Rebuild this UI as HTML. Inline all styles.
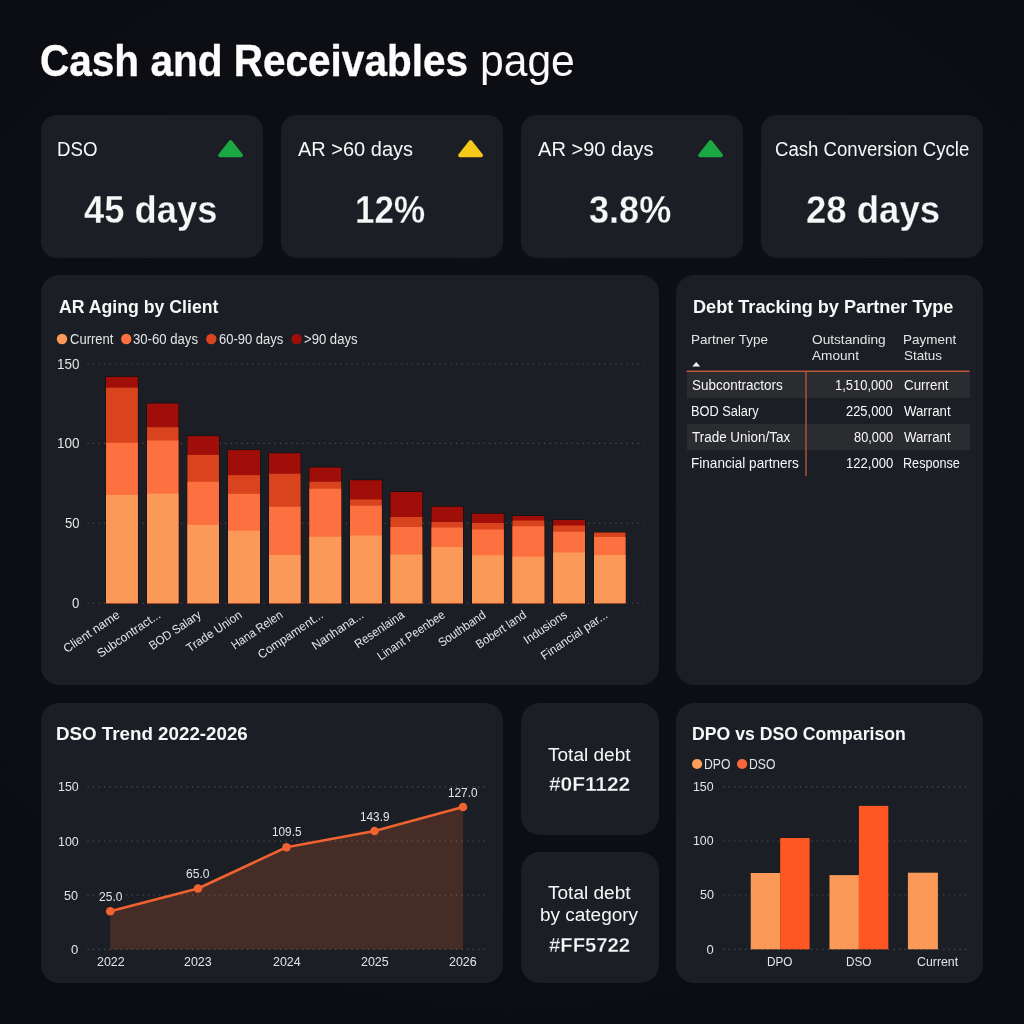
<!DOCTYPE html>
<html lang="en">
<head>
<meta charset="utf-8">
<title>Cash and Receivables page</title>
<style>

html,body{margin:0;padding:0;}
body{width:1024px;height:1024px;overflow:hidden;background:#0b0d12;font-family:"Liberation Sans",sans-serif;color:#f7f7f7;position:relative;}
.bgglow{position:absolute;left:0;top:0;width:1024px;height:1024px;background:radial-gradient(ellipse 800px 700px at 50% 45%, #0d0f15 0%, #0b0d12 100%);}
.layer{position:absolute;left:0;top:0;width:1024px;height:1024px;will-change:transform;}
.card{position:absolute;background:#1b1f25;box-sizing:border-box;}
.t{position:absolute;white-space:nowrap;line-height:1;transform-origin:0 50%;display:block;}
.b{font-weight:bold;}
.ek{-webkit-text-stroke:0.3px #1b1f25;}
.et{-webkit-text-stroke:0.35px #fdfdfd;}
svg{position:absolute;left:0;top:0;overflow:visible;}
.xl{font-size:12.2px;fill:#e6e6e6;}

</style>
</head>
<body>
<div class="bgglow"></div>
<div class="layer">
<div class="card" style="left:41px;top:115.25px;width:222.25px;height:143px;border-radius:16px;"></div>
<div class="card" style="left:280.75px;top:115.25px;width:222.25px;height:143px;border-radius:16px;"></div>
<div class="card" style="left:520.75px;top:115.25px;width:222.25px;height:143px;border-radius:16px;"></div>
<div class="card" style="left:760.75px;top:115.25px;width:222.25px;height:143px;border-radius:16px;"></div>
<div class="card" style="left:41px;top:275px;width:617.5px;height:410.25px;border-radius:18px;"></div>
<div class="card" style="left:676.25px;top:275px;width:306.75px;height:410.25px;border-radius:18px;"></div>
<div class="card" style="left:41px;top:703px;width:462px;height:280.25px;border-radius:18px;"></div>
<div class="card" style="left:520.75px;top:703px;width:138px;height:131.75px;border-radius:19px;"></div>
<div class="card" style="left:520.75px;top:852.25px;width:138px;height:131px;border-radius:19px;"></div>
<div class="card" style="left:676.25px;top:703px;width:306.75px;height:280.25px;border-radius:18px;"></div>
<div style="position:absolute;left:686.5px;top:371.5px;width:283px;height:26.3px;background:#2a2c30"></div>
<div style="position:absolute;left:686.5px;top:424px;width:283px;height:25.8px;background:#2a2c30"></div>
<svg width="1024" height="1024" viewBox="0 0 1024 1024">
<path d="M230.575 141.98 L241.18 155.4 L219.97 155.4 Z" fill="#1ba843" stroke="#1ba843" stroke-width="3.6" stroke-linejoin="round"/>
<path d="M470.575 141.98 L481.18 155.4 L459.97 155.4 Z" fill="#f5c819" stroke="#f5c819" stroke-width="3.6" stroke-linejoin="round"/>
<path d="M710.575 141.98 L721.18 155.4 L699.97 155.4 Z" fill="#1ba843" stroke="#1ba843" stroke-width="3.6" stroke-linejoin="round"/>
<line x1="87.5" x2="643.5" y1="364.2" y2="364.2" stroke="#4f5359" stroke-width="1.15" stroke-dasharray="1.15 4.35"/>
<line x1="87.5" x2="643.5" y1="443.3" y2="443.3" stroke="#4f5359" stroke-width="1.15" stroke-dasharray="1.15 4.35"/>
<line x1="87.5" x2="643.5" y1="523.2" y2="523.2" stroke="#4f5359" stroke-width="1.15" stroke-dasharray="1.15 4.35"/>
<line x1="87.5" x2="643.5" y1="603.2" y2="603.2" stroke="#4f5359" stroke-width="1.15" stroke-dasharray="1.15 4.35"/>
<circle cx="62" cy="339" r="5.2" fill="#fb9a58"/>
<circle cx="126.25" cy="339" r="5.2" fill="#fd7040"/>
<circle cx="211.25" cy="339" r="5.2" fill="#d9431d"/>
<circle cx="296.6" cy="339" r="5.2" fill="#a00e0a"/>
<rect x="106" y="376.9" width="31.8" height="226.35" fill="none" stroke="#170905" stroke-opacity="0.85" stroke-width="1.2"/>
<rect x="106" y="376.9" width="31.8" height="226.35" fill="#a00e0a"/>
<rect x="106" y="387.7" width="31.8" height="215.55" fill="#d9431d"/>
<rect x="106" y="442.75" width="31.8" height="160.5" fill="#fd7040"/>
<rect x="106" y="495" width="31.8" height="108.25" fill="#fb9a58"/>
<rect x="147" y="403.5" width="31.4" height="199.75" fill="none" stroke="#170905" stroke-opacity="0.85" stroke-width="1.2"/>
<rect x="147" y="403.5" width="31.4" height="199.75" fill="#a00e0a"/>
<rect x="147" y="427.25" width="31.4" height="176" fill="#d9431d"/>
<rect x="147" y="440.5" width="31.4" height="162.75" fill="#fd7040"/>
<rect x="147" y="493.6" width="31.4" height="109.65" fill="#fb9a58"/>
<rect x="187.5" y="436.1" width="31.5" height="167.15" fill="none" stroke="#170905" stroke-opacity="0.85" stroke-width="1.2"/>
<rect x="187.5" y="436.1" width="31.5" height="167.15" fill="#a00e0a"/>
<rect x="187.5" y="454.9" width="31.5" height="148.35" fill="#d9431d"/>
<rect x="187.5" y="481.75" width="31.5" height="121.5" fill="#fd7040"/>
<rect x="187.5" y="524.9" width="31.5" height="78.35" fill="#fb9a58"/>
<rect x="228" y="450.1" width="32" height="153.15" fill="none" stroke="#170905" stroke-opacity="0.85" stroke-width="1.2"/>
<rect x="228" y="450.1" width="32" height="153.15" fill="#a00e0a"/>
<rect x="228" y="475.1" width="32" height="128.15" fill="#d9431d"/>
<rect x="228" y="493.8" width="32" height="109.45" fill="#fd7040"/>
<rect x="228" y="530.75" width="32" height="72.5" fill="#fb9a58"/>
<rect x="269" y="453.25" width="31.5" height="150" fill="none" stroke="#170905" stroke-opacity="0.85" stroke-width="1.2"/>
<rect x="269" y="453.25" width="31.5" height="150" fill="#a00e0a"/>
<rect x="269" y="473.75" width="31.5" height="129.5" fill="#d9431d"/>
<rect x="269" y="506.75" width="31.5" height="96.5" fill="#fd7040"/>
<rect x="269" y="555" width="31.5" height="48.25" fill="#fb9a58"/>
<rect x="309.4" y="467.5" width="31.8" height="135.75" fill="none" stroke="#170905" stroke-opacity="0.85" stroke-width="1.2"/>
<rect x="309.4" y="467.5" width="31.8" height="135.75" fill="#a00e0a"/>
<rect x="309.4" y="481.75" width="31.8" height="121.5" fill="#d9431d"/>
<rect x="309.4" y="488.75" width="31.8" height="114.5" fill="#fd7040"/>
<rect x="309.4" y="536.75" width="31.8" height="66.5" fill="#fb9a58"/>
<rect x="350" y="480.25" width="31.75" height="123" fill="none" stroke="#170905" stroke-opacity="0.85" stroke-width="1.2"/>
<rect x="350" y="480.25" width="31.75" height="123" fill="#a00e0a"/>
<rect x="350" y="499.5" width="31.75" height="103.75" fill="#d9431d"/>
<rect x="350" y="505.75" width="31.75" height="97.5" fill="#fd7040"/>
<rect x="350" y="535.5" width="31.75" height="67.75" fill="#fb9a58"/>
<rect x="390.5" y="492" width="31.75" height="111.25" fill="none" stroke="#170905" stroke-opacity="0.85" stroke-width="1.2"/>
<rect x="390.5" y="492" width="31.75" height="111.25" fill="#a00e0a"/>
<rect x="390.5" y="517" width="31.75" height="86.25" fill="#d9431d"/>
<rect x="390.5" y="527" width="31.75" height="76.25" fill="#fd7040"/>
<rect x="390.5" y="554.5" width="31.75" height="48.75" fill="#fb9a58"/>
<rect x="431.5" y="506.75" width="31.5" height="96.5" fill="none" stroke="#170905" stroke-opacity="0.85" stroke-width="1.2"/>
<rect x="431.5" y="506.75" width="31.5" height="96.5" fill="#a00e0a"/>
<rect x="431.5" y="522" width="31.5" height="81.25" fill="#d9431d"/>
<rect x="431.5" y="527.5" width="31.5" height="75.75" fill="#fd7040"/>
<rect x="431.5" y="547" width="31.5" height="56.25" fill="#fb9a58"/>
<rect x="472" y="513.75" width="31.75" height="89.5" fill="none" stroke="#170905" stroke-opacity="0.85" stroke-width="1.2"/>
<rect x="472" y="513.75" width="31.75" height="89.5" fill="#a00e0a"/>
<rect x="472" y="523" width="31.75" height="80.25" fill="#d9431d"/>
<rect x="472" y="529.5" width="31.75" height="73.75" fill="#fd7040"/>
<rect x="472" y="555.25" width="31.75" height="48" fill="#fb9a58"/>
<rect x="512.5" y="516" width="31.75" height="87.25" fill="none" stroke="#170905" stroke-opacity="0.85" stroke-width="1.2"/>
<rect x="512.5" y="516" width="31.75" height="87.25" fill="#a00e0a"/>
<rect x="512.5" y="520.5" width="31.75" height="82.75" fill="#d9431d"/>
<rect x="512.5" y="526.25" width="31.75" height="77" fill="#fd7040"/>
<rect x="512.5" y="556.75" width="31.75" height="46.5" fill="#fb9a58"/>
<rect x="553.25" y="520" width="31.75" height="83.25" fill="none" stroke="#170905" stroke-opacity="0.85" stroke-width="1.2"/>
<rect x="553.25" y="520" width="31.75" height="83.25" fill="#a00e0a"/>
<rect x="553.25" y="525.5" width="31.75" height="77.75" fill="#d9431d"/>
<rect x="553.25" y="531.75" width="31.75" height="71.5" fill="#fd7040"/>
<rect x="553.25" y="552.5" width="31.75" height="50.75" fill="#fb9a58"/>
<rect x="594" y="532.5" width="31.5" height="70.75" fill="none" stroke="#170905" stroke-opacity="0.85" stroke-width="1.2"/>
<rect x="594" y="532.5" width="31.5" height="70.75" fill="#d9431d"/>
<rect x="594" y="537" width="31.5" height="66.25" fill="#fd7040"/>
<rect x="594" y="555" width="31.5" height="48.25" fill="#fb9a58"/>
<text class="xl" text-anchor="end" transform="translate(120.7,616.8) rotate(-34) scale(1,1)">Client name</text>
<text class="xl" text-anchor="end" transform="translate(161.5,616.8) rotate(-34) scale(0.98,1)">Subcontract...</text>
<text class="xl" text-anchor="end" transform="translate(202.05,616.8) rotate(-34) scale(0.93,1)">BOD Salary</text>
<text class="xl" text-anchor="end" transform="translate(242.8,616.8) rotate(-34) scale(0.96,1)">Trade Union</text>
<text class="xl" text-anchor="end" transform="translate(283.55,616.8) rotate(-34) scale(0.915,1)">Hana Relen</text>
<text class="xl" text-anchor="end" transform="translate(324.1,616.8) rotate(-34) scale(0.99,1)">Compament...</text>
<text class="xl" text-anchor="end" transform="translate(364.675,616.8) rotate(-34) scale(1,1)">Nanhana...</text>
<text class="xl" text-anchor="end" transform="translate(405.175,616.8) rotate(-34) scale(0.935,1)">Resenlaina</text>
<text class="xl" text-anchor="end" transform="translate(446.05,616.8) rotate(-34) scale(0.92,1)">Linant Peenbee</text>
<text class="xl" text-anchor="end" transform="translate(486.675,616.8) rotate(-34) scale(0.92,1)">Southband</text>
<text class="xl" text-anchor="end" transform="translate(527.175,616.8) rotate(-34) scale(0.925,1)">Bobert land</text>
<text class="xl" text-anchor="end" transform="translate(567.925,616.8) rotate(-34) scale(0.945,1)">Indusions</text>
<text class="xl" text-anchor="end" transform="translate(608.55,616.8) rotate(-34) scale(0.98,1)">Financial par...</text>
<path d="M692.2 366.4 L696.2 362 L700.2 366.4 Z" fill="#f7f7f7"/>
<line x1="686.5" x2="969.5" y1="371.2" y2="371.2" stroke="#bb563b" stroke-width="1.35"/>
<line x1="806" x2="806" y1="371.2" y2="476" stroke="#bb563b" stroke-width="1.35"/>
<line x1="87.5" x2="488.5" y1="786.9" y2="786.9" stroke="#4f5359" stroke-width="1.15" stroke-dasharray="1.15 4.35"/>
<line x1="87.5" x2="488.5" y1="841.1" y2="841.1" stroke="#4f5359" stroke-width="1.15" stroke-dasharray="1.15 4.35"/>
<line x1="87.5" x2="488.5" y1="895.1" y2="895.1" stroke="#4f5359" stroke-width="1.15" stroke-dasharray="1.15 4.35"/>
<line x1="87.5" x2="488.5" y1="949.3" y2="949.3" stroke="#4f5359" stroke-width="1.15" stroke-dasharray="1.15 4.35"/>
<polygon points="110.25,911.25 198,888.5 286.5,847.25 374.5,831 463,807 463,949.3 110.25,949.3" fill="#f0622f" fill-opacity="0.2"/>
<polyline points="110.25,911.25 198,888.5 286.5,847.25 374.5,831 463,807" fill="none" stroke="#f0622f" stroke-width="2.6" stroke-linejoin="round" stroke-linecap="round"/>
<circle cx="110.25" cy="911.25" r="4.3" fill="#f0622f"/>
<circle cx="198" cy="888.5" r="4.3" fill="#f0622f"/>
<circle cx="286.5" cy="847.25" r="4.3" fill="#f0622f"/>
<circle cx="374.5" cy="831" r="4.3" fill="#f0622f"/>
<circle cx="463" cy="807" r="4.3" fill="#f0622f"/>
<line x1="723.1" x2="968" y1="786.9" y2="786.9" stroke="#4f5359" stroke-width="1.15" stroke-dasharray="1.15 4.35"/>
<line x1="723.1" x2="968" y1="841" y2="841" stroke="#4f5359" stroke-width="1.15" stroke-dasharray="1.15 4.35"/>
<line x1="723.1" x2="968" y1="895" y2="895" stroke="#4f5359" stroke-width="1.15" stroke-dasharray="1.15 4.35"/>
<line x1="723.1" x2="968" y1="949.3" y2="949.3" stroke="#4f5359" stroke-width="1.15" stroke-dasharray="1.15 4.35"/>
<circle cx="697.1" cy="764" r="5.1" fill="#fd9d5c"/>
<circle cx="742.1" cy="764" r="5.1" fill="#f9683c"/>
<rect x="750.75" y="873" width="29.45" height="76.3" fill="#fb9a58"/>
<rect x="780.2" y="838" width="29.4" height="111.3" fill="#ff5722"/>
<rect x="829.5" y="875.1" width="29.4" height="74.2" fill="#fb9a58"/>
<rect x="858.9" y="805.9" width="29.4" height="143.4" fill="#ff5722"/>
<rect x="907.9" y="872.7" width="30" height="76.6" fill="#fb9a58"/>
</svg>
<div class="t b et" style="left:40.07px;top:39.98px;font-size:43.5px;color:#fdfdfd;transform:scaleX(0.9318);">Cash and Receivables</div>
<div class="t" style="left:479.54px;top:39.98px;font-size:43.5px;color:#fafafa;transform:scaleX(0.9799);">page</div>
<div class="t" style="left:57.07px;top:138.57px;font-size:20px;color:#f7f7f7;transform:scaleX(0.9334);">DSO</div>
<div class="t" style="left:298.00px;top:138.57px;font-size:20px;color:#f7f7f7;transform:scaleX(0.9994);">AR &gt;60 days</div>
<div class="t" style="left:538.00px;top:138.57px;font-size:20px;color:#f7f7f7;transform:scaleX(1.0038);">AR &gt;90 days</div>
<div class="t" style="left:775.07px;top:138.57px;font-size:20px;color:#f7f7f7;transform:scaleX(0.9298);">Cash Conversion Cycle</div>
<div class="t b ek" style="left:84.25px;top:191.11px;font-size:38.5px;color:#f7f7f7;transform:scaleX(0.9438);">45 days</div>
<div class="t b ek" style="left:355.18px;top:191.11px;font-size:38.5px;color:#f7f7f7;transform:scaleX(0.9088);">12%</div>
<div class="t b ek" style="left:588.50px;top:191.11px;font-size:38.5px;color:#f7f7f7;transform:scaleX(0.9369);">3.8%</div>
<div class="t b ek" style="left:805.80px;top:191.11px;font-size:38.5px;color:#f7f7f7;transform:scaleX(0.9488);">28 days</div>
<div class="t b" style="left:58.75px;top:297.59px;font-size:18.2px;color:#f7f7f7;transform:scaleX(0.9719);">AR Aging by Client</div>
<div class="t b" style="left:692.50px;top:297.59px;font-size:18.2px;color:#f7f7f7;transform:scaleX(0.9959);">Debt Tracking by Partner Type</div>
<div class="t b" style="left:56.48px;top:724.92px;font-size:18.4px;color:#f7f7f7;transform:scaleX(1.0195);">DSO Trend 2022-2026</div>
<div class="t b" style="left:692.16px;top:725.09px;font-size:18.8px;color:#f7f7f7;transform:scaleX(0.9397);">DPO vs DSO Comparison</div>
<div class="t" style="left:69.50px;top:332.15px;font-size:14px;color:#e4e4e4;transform:scaleX(0.9296);">Current</div>
<div class="t" style="left:133.00px;top:332.15px;font-size:14px;color:#e4e4e4;transform:scaleX(0.9384);">30-60 days</div>
<div class="t" style="left:218.75px;top:332.15px;font-size:14px;color:#e4e4e4;transform:scaleX(0.9275);">60-90 days</div>
<div class="t" style="left:303.50px;top:332.15px;font-size:14px;color:#e4e4e4;transform:scaleX(0.9352);">&gt;90 days</div>
<div class="t" style="left:56.54px;top:357.15px;font-size:14px;color:#e4e4e4;transform:scaleX(0.9636);">150</div>
<div class="t" style="left:56.54px;top:436.15px;font-size:14px;color:#e4e4e4;transform:scaleX(0.9636);">100</div>
<div class="t" style="left:64.50px;top:516.15px;font-size:14px;color:#e4e4e4;transform:scaleX(0.9344);">50</div>
<div class="t" style="left:71.75px;top:595.65px;font-size:14px;color:#e4e4e4;transform:scaleX(0.9375);">0</div>
<div class="t" style="left:691.24px;top:332.91px;font-size:13.4px;color:#e4e4e4;transform:scaleX(1.0071);">Partner Type</div>
<div class="t" style="left:812.25px;top:332.91px;font-size:13.4px;color:#e4e4e4;transform:scaleX(1.0207);">Outstanding</div>
<div class="t" style="left:812.25px;top:349.16px;font-size:13.4px;color:#e4e4e4;transform:scaleX(1.0177);">Amount</div>
<div class="t" style="left:902.74px;top:332.91px;font-size:13.4px;color:#e4e4e4;transform:scaleX(1.0072);">Payment</div>
<div class="t" style="left:903.75px;top:349.16px;font-size:13.4px;color:#e4e4e4;transform:scaleX(0.9996);">Status</div>
<div class="t" style="left:692.25px;top:379.22px;font-size:13.8px;color:#f7f7f7;transform:scaleX(0.9769);">Subcontractors</div>
<div class="t" style="left:835.06px;top:379.22px;font-size:13.8px;color:#f7f7f7;transform:scaleX(0.9390);">1,510,000</div>
<div class="t" style="left:903.75px;top:379.22px;font-size:13.8px;color:#f7f7f7;transform:scaleX(0.9692);">Current</div>
<div class="t" style="left:691.32px;top:405.02px;font-size:13.8px;color:#f7f7f7;transform:scaleX(0.9279);">BOD Salary</div>
<div class="t" style="left:846.00px;top:405.02px;font-size:13.8px;color:#f7f7f7;transform:scaleX(0.9363);">225,000</div>
<div class="t" style="left:903.75px;top:405.02px;font-size:13.8px;color:#f7f7f7;transform:scaleX(0.9596);">Warrant</div>
<div class="t" style="left:692.25px;top:430.82px;font-size:13.8px;color:#f7f7f7;transform:scaleX(0.9746);">Trade Union/Tax</div>
<div class="t" style="left:853.50px;top:430.82px;font-size:13.8px;color:#f7f7f7;transform:scaleX(0.9288);">80,000</div>
<div class="t" style="left:903.75px;top:430.82px;font-size:13.8px;color:#f7f7f7;transform:scaleX(0.9596);">Warrant</div>
<div class="t" style="left:691.27px;top:457.02px;font-size:13.8px;color:#f7f7f7;transform:scaleX(0.9838);">Financial partners</div>
<div class="t" style="left:845.55px;top:457.02px;font-size:13.8px;color:#f7f7f7;transform:scaleX(0.9451);">122,000</div>
<div class="t" style="left:902.83px;top:457.02px;font-size:13.8px;color:#f7f7f7;transform:scaleX(0.9153);">Response</div>
<div class="t" style="left:57.50px;top:780.35px;font-size:13px;color:#e4e4e4;transform:scaleX(0.9553);">150</div>
<div class="t" style="left:57.50px;top:834.60px;font-size:13px;color:#e4e4e4;transform:scaleX(0.9553);">100</div>
<div class="t" style="left:64.20px;top:888.60px;font-size:13px;color:#e4e4e4;transform:scaleX(0.9698);">50</div>
<div class="t" style="left:71.00px;top:942.85px;font-size:13px;color:#e4e4e4;">0</div>
<div class="t" style="left:96.50px;top:955.40px;font-size:13px;color:#e4e4e4;transform:scaleX(0.9585);">2022</div>
<div class="t" style="left:184.25px;top:955.40px;font-size:13px;color:#e4e4e4;transform:scaleX(0.9585);">2023</div>
<div class="t" style="left:273.00px;top:955.40px;font-size:13px;color:#e4e4e4;transform:scaleX(0.9585);">2024</div>
<div class="t" style="left:361.00px;top:955.40px;font-size:13px;color:#e4e4e4;transform:scaleX(0.9585);">2025</div>
<div class="t" style="left:449.25px;top:955.40px;font-size:13px;color:#e4e4e4;transform:scaleX(0.9585);">2026</div>
<div class="t" style="left:98.50px;top:890.58px;font-size:12.6px;color:#e4e4e4;transform:scaleX(0.9589);">25.0</div>
<div class="t" style="left:186.25px;top:867.58px;font-size:12.6px;color:#e4e4e4;transform:scaleX(0.9589);">65.0</div>
<div class="t" style="left:271.75px;top:826.33px;font-size:12.6px;color:#e4e4e4;transform:scaleX(0.9362);">109.5</div>
<div class="t" style="left:359.75px;top:810.58px;font-size:12.6px;color:#e4e4e4;transform:scaleX(0.9362);">143.9</div>
<div class="t" style="left:448.25px;top:786.83px;font-size:12.6px;color:#e4e4e4;transform:scaleX(0.9362);">127.0</div>
<div class="t" style="left:548.25px;top:744.75px;font-size:19.2px;color:#f7f7f7;transform:scaleX(0.9926);">Total debt</div>
<div class="t b ek" style="left:549.00px;top:774.07px;font-size:20px;color:#f7f7f7;transform:scaleX(1.0421);">#0F1122</div>
<div class="t" style="left:548.25px;top:882.75px;font-size:19.2px;color:#f7f7f7;transform:scaleX(0.9926);">Total debt</div>
<div class="t" style="left:539.51px;top:905.25px;font-size:19.2px;color:#f7f7f7;transform:scaleX(0.9889);">by category</div>
<div class="t b ek" style="left:549.00px;top:934.57px;font-size:20px;color:#f7f7f7;transform:scaleX(1.0134);">#FF5722</div>
<div class="t" style="left:703.73px;top:756.90px;font-size:14px;color:#e4e4e4;transform:scaleX(0.8710);">DPO</div>
<div class="t" style="left:748.53px;top:756.90px;font-size:14px;color:#e4e4e4;transform:scaleX(0.8693);">DSO</div>
<div class="t" style="left:693.10px;top:779.60px;font-size:13px;color:#e4e4e4;transform:scaleX(0.9506);">150</div>
<div class="t" style="left:693.10px;top:834.10px;font-size:13px;color:#e4e4e4;transform:scaleX(0.9506);">100</div>
<div class="t" style="left:699.70px;top:888.35px;font-size:13px;color:#e4e4e4;transform:scaleX(0.9698);">50</div>
<div class="t" style="left:706.50px;top:942.60px;font-size:13px;color:#e4e4e4;">0</div>
<div class="t" style="left:766.84px;top:955.00px;font-size:13px;color:#e4e4e4;transform:scaleX(0.9054);">DPO</div>
<div class="t" style="left:845.84px;top:955.00px;font-size:13px;color:#e4e4e4;transform:scaleX(0.9054);">DSO</div>
<div class="t" style="left:916.85px;top:955.00px;font-size:13px;color:#e4e4e4;transform:scaleX(0.9489);">Current</div>
</div>
</body>
</html>
